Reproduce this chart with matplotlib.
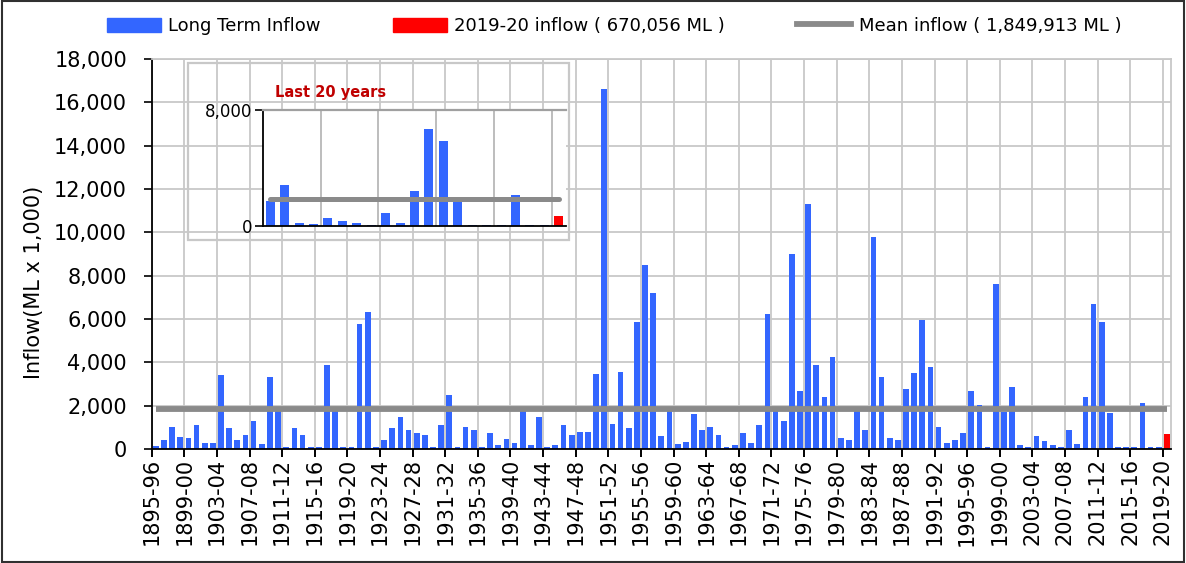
import matplotlib
matplotlib.use("Agg")
import matplotlib.pyplot as plt
import numpy as np
from matplotlib.patches import Patch, Rectangle
from matplotlib.lines import Line2D
from matplotlib.ticker import FuncFormatter
from matplotlib.transforms import ScaledTranslation

# inflow per water year, ML x 1,000 (1895-96 .. 2019-20)
start_years = list(range(1895, 2020))
years = [f"{y}-{str(y + 1)[-2:]}" for y in start_years]
inflow = [
    130, 400, 1020, 570, 490, 1120, 290, 290, 3420, 950,
    400, 660, 1310, 210, 3330, 1750, 100, 950, 660, 100,
    100, 3880, 1750, 100, 100, 5780, 6320, 100, 400, 950,
    1480, 860, 760, 660, 100, 1120, 2510, 100, 1020, 860,
    100, 760, 200, 470, 290, 1750, 200, 1480, 100, 200,
    1120, 660, 780, 800, 3460, 16600, 1150, 3550, 980, 5870,
    8480, 7180, 600, 1780, 230, 320, 1620, 860, 1020, 660,
    100, 200, 760, 290, 1120, 6250, 1750, 1310, 9000, 2690,
    11330, 3880, 2420, 4250, 490, 400, 1750, 860, 9780, 3330,
    490, 400, 2780, 3520, 5950, 3780, 1020, 290, 400, 750,
    2690, 2030, 110, 7600, 1720, 2840, 190, 110, 580, 350,
    190, 100, 900, 220, 2400, 6680, 5850, 1650, 100, 100,
    100, 2130, 100, 100, 670.056,
]
mean_inflow = 1849.913
inset_count = 21

BLUE = "#3366ff"
RED = "#ff0000"
GREY = "#8a8a8a"
GRID = "#c8c8c8"

W, H = 1186, 563
fig = plt.figure(figsize=(W / 100, H / 100), dpi=100)


def fx(px):
    return px / W


def fy(py):
    return 1 - py / H


x = np.arange(len(inflow))
colors = [BLUE] * (len(inflow) - 1) + [RED]

ax = fig.add_axes([fx(151.7), fy(449), fx(1171) - fx(151.7), fy(59) - fy(449)])
ax.bar(x, inflow, width=0.7, color=colors, zorder=2)
ax.plot(x, [mean_inflow] * len(x), color=GREY, lw=4.2, solid_capstyle="butt", zorder=3)
ax.set_xlim(-0.5, len(x) - 0.5)
ax.set_ylim(0, 18000)
ax.set_yticks(range(0, 18001, 2000))
ax.yaxis.set_major_formatter(FuncFormatter(lambda v, p: f"{int(v):,}"))
tick_idx = list(range(0, len(x), 4))
ax.set_xticks([i - 0.5 for i in tick_idx])
ax.set_xticklabels([years[i] for i in tick_idx], rotation=90, fontsize=15)
shift = ScaledTranslation(3 / 100, 0, fig.dpi_scale_trans)
for lab in ax.get_xticklabels():
    lab.set_transform(lab.get_transform() + shift)
ax.tick_params(axis="y", labelsize=15, length=5.8, width=1.2, direction="out", pad=12)
ax.tick_params(axis="x", length=5.8, width=1.4, direction="out", pad=0.7)
ax.grid(True, color=GRID, lw=1.3)
ax.set_axisbelow(True)
for s in ["left", "bottom"]:
    ax.spines[s].set_color("black")
    ax.spines[s].set_linewidth(1.3)
for s in ["top", "right"]:
    ax.spines[s].set_color(GRID)
    ax.spines[s].set_linewidth(1.3)

fig.text(fx(34.5), fy(282), "Inflow(ML x 1,000)", rotation=90, ha="center", va="center", fontsize=15)

# inset: last 20 years
box = Rectangle((fx(188), fy(240)), fx(569) - fx(188), fy(63) - fy(240), transform=fig.transFigure,
                fill=False, edgecolor=GRID, lw=1.6, zorder=5)
fig.patches.append(box)

last = inflow[-inset_count:]
xi = np.arange(inset_count)
ins = fig.add_axes([fx(263), fy(226), fx(566) - fx(263), fy(110) - fy(226)])
ins.set_facecolor("white")
ins.bar(xi, last, width=0.62, color=[BLUE] * (inset_count - 1) + [RED], zorder=2)
ins.plot(xi, [mean_inflow] * inset_count, color=GREY, lw=3.6, solid_capstyle="round", zorder=3)
ins.set_xlim(-0.5, inset_count - 0.5)
ins.set_ylim(0, 8000)
ins.set_yticks([0, 8000])
ins.set_yticklabels(["0", "8,000"])
ins.set_xticks([i - 0.5 for i in range(4, inset_count, 4)])
ins.tick_params(axis="x", length=0, labelbottom=False)
ins.tick_params(axis="y", labelsize=12, length=6, width=1.2, pad=2)
ins.grid(True, axis="x", color="#b8b8b8", lw=1.3)
ins.set_axisbelow(True)
ins.spines["left"].set_color("black")
ins.spines["bottom"].set_color("black")
ins.spines["left"].set_linewidth(1.3)
ins.spines["bottom"].set_linewidth(1.3)
ins.spines["top"].set_color("#a0a0a0")
ins.spines["top"].set_linewidth(1.6)
ins.spines["right"].set_visible(False)
fig.text(fx(275), fy(93), "Last 20 years", color="#c00000", fontweight="bold", fontsize=10.5,
         ha="left", va="center")

handles = [
    Patch(color=BLUE),
    Patch(color=RED),
    Line2D([0], [0], color=GREY, lw=4.2),
]
labels = [
    "Long Term Inflow",
    f"2019-20 inflow ( {int(round(inflow[-1] * 1000)):,} ML )",
    f"Mean inflow ( {int(round(mean_inflow * 1000)):,} ML )",
]
fig.legend(handles, labels, loc="center", bbox_to_anchor=(fx(614), fy(26)), ncol=3, frameon=False,
           fontsize=13, handlelength=3.0, handleheight=0.8, handletextpad=0.4, columnspacing=4.0)

fig.patches.append(Rectangle((0.002, 0.002), 0.996, 0.996, transform=fig.transFigure, fill=False,
                             edgecolor="#303030", lw=1.5))

fig.savefig("out.png", dpi=100)
